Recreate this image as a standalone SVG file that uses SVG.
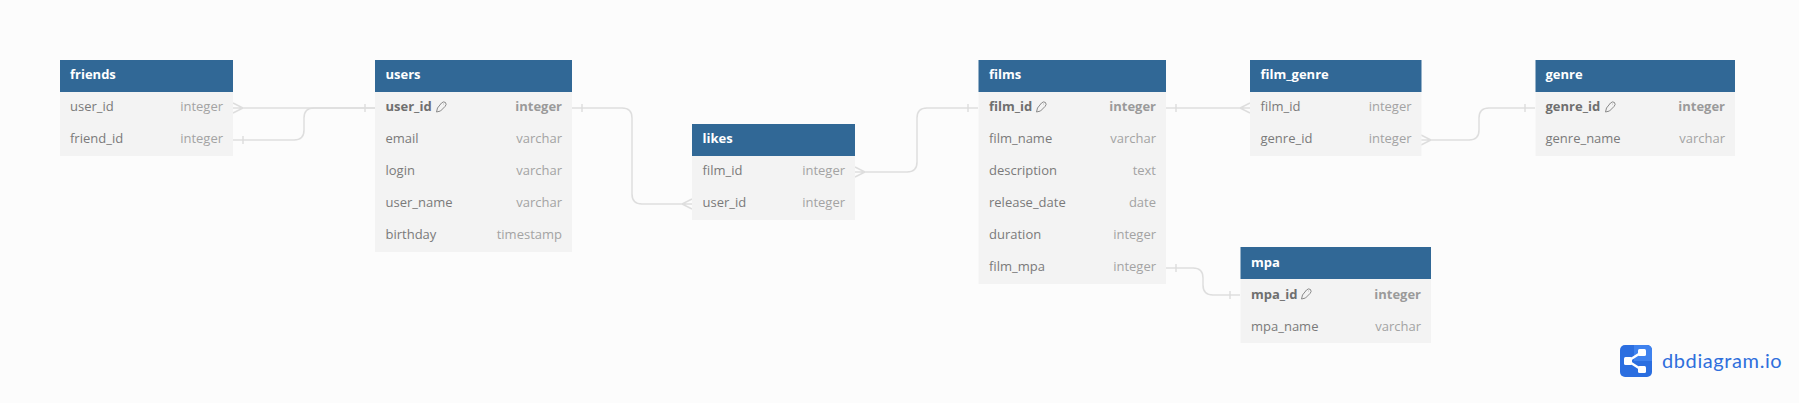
<svg xmlns="http://www.w3.org/2000/svg" width="1799" height="403" viewBox="0 0 1799 403">
<style>
text{font-family:"Open Sans","Noto Sans",sans-serif;font-size:13px}
.h{fill:#316896}.r{fill:#f3f3f3}
.t{fill:#fff;font-weight:700}
.n{fill:#7a7a7a}.ty{fill:#a3a3a3;text-anchor:end}
.pk{fill:#6f6f6f;font-weight:700}.pt{fill:#9a9a9a;font-weight:700;text-anchor:end}
.c{fill:none;stroke:#dedede;stroke-width:1.5}
.k{fill:none;stroke:#8a8a8a;stroke-width:1}
</style>
<defs>
<path id="key" class="k" d="M.5 10.500 L1.500 6.500 L5.500 1.500 Q7.500 -.5 9.500 1 Q11 3 9 5 L4.500 9.500 Z M7.500 2.500h.5"/>
</defs>
<rect width="1799" height="403" fill="#fcfcfc"/>
<g id="connectors">
<path class="c" d="M233 108H375M233 103L243 108L233 113M365 104V112"/>
<path class="c" d="M233 140H294Q304 140 304 130V118Q304 108 314 108H375M243 136V144"/>
<path class="c" d="M572 108H622Q632 108 632 118V194Q632 204 642 204H692M582 104V112M692 199L682 204L692 209"/>
<path class="c" d="M855 172H907Q917 172 917 162V118Q917 108 927 108H978M855 167L865 172L855 177M968 104V112"/>
<path class="c" d="M1166 108H1250M1176 104V112M1250 103L1240 108L1250 113"/>
<path class="c" d="M1421 140H1469Q1479 140 1479 130V118Q1479 108 1489 108H1535M1421 135L1431 140L1421 145M1525 104V112"/>
<path class="c" d="M1166 268H1193Q1203 268 1203 278V285Q1203 295 1213 295H1240M1176 264V272M1230 291V299"/>
</g>
<g id="friends">
<rect class="r" x="60" y="92" width="173" height="64"/><rect class="h" x="60" y="60" width="173" height="32"/>
<text class="t" x="70" y="79">friends</text>
<text class="n" x="70" y="111">user_id</text><text class="ty" x="223" y="111">integer</text>
<text class="n" x="70" y="143">friend_id</text><text class="ty" x="223" y="143">integer</text>
</g>
<g id="users">
<rect class="r" x="375" y="92" width="197" height="160"/><rect class="h" x="375" y="60" width="197" height="32"/>
<text class="t" x="385.500" y="79">users</text>
<text class="pk" x="385.500" y="111">user_id</text><use href="#key" x="436" y="101.500"/><text class="pt" x="562" y="111">integer</text>
<text class="n" x="385.500" y="143">email</text><text class="ty" x="562" y="143">varchar</text>
<text class="n" x="385.500" y="175">login</text><text class="ty" x="562" y="175">varchar</text>
<text class="n" x="385.500" y="207">user_name</text><text class="ty" x="562" y="207">varchar</text>
<text class="n" x="385.500" y="239">birthday</text><text class="ty" x="562" y="239">timestamp</text>
</g>
<g id="likes">
<rect class="r" x="692" y="156" width="163" height="64"/><rect class="h" x="692" y="124" width="163" height="32"/>
<text class="t" x="702.500" y="143">likes</text>
<text class="n" x="702.500" y="175">film_id</text><text class="ty" x="845" y="175">integer</text>
<text class="n" x="702.500" y="207">user_id</text><text class="ty" x="845" y="207">integer</text>
</g>
<g id="films">
<rect class="r" x="978.500" y="92" width="187.500" height="192"/><rect class="h" x="978.500" y="60" width="187.500" height="32"/>
<text class="t" x="989" y="79">films</text>
<text class="pk" x="989" y="111">film_id</text><use href="#key" x="1036" y="101.500"/><text class="pt" x="1156" y="111">integer</text>
<text class="n" x="989" y="143">film_name</text><text class="ty" x="1156" y="143">varchar</text>
<text class="n" x="989" y="175">description</text><text class="ty" x="1156" y="175">text</text>
<text class="n" x="989" y="207">release_date</text><text class="ty" x="1156" y="207">date</text>
<text class="n" x="989" y="239">duration</text><text class="ty" x="1156" y="239">integer</text>
<text class="n" x="989" y="271">film_mpa</text><text class="ty" x="1156" y="271">integer</text>
</g>
<g id="film_genre">
<rect class="r" x="1250" y="92" width="171.500" height="64"/><rect class="h" x="1250" y="60" width="171.500" height="32"/>
<text class="t" x="1260.500" y="79">film_genre</text>
<text class="n" x="1260.500" y="111">film_id</text><text class="ty" x="1411.500" y="111">integer</text>
<text class="n" x="1260.500" y="143">genre_id</text><text class="ty" x="1411.500" y="143">integer</text>
</g>
<g id="genre">
<rect class="r" x="1535.500" y="92" width="199.500" height="64"/><rect class="h" x="1535.500" y="60" width="199.500" height="32"/>
<text class="t" x="1545.500" y="79">genre</text>
<text class="pk" x="1545.500" y="111">genre_id</text><use href="#key" x="1605" y="101.500"/><text class="pt" x="1725" y="111">integer</text>
<text class="n" x="1545.500" y="143">genre_name</text><text class="ty" x="1725" y="143">varchar</text>
</g>
<g id="mpa">
<rect class="r" x="1240.500" y="279" width="190.500" height="64"/><rect class="h" x="1240.500" y="247" width="190.500" height="32"/>
<text class="t" x="1251" y="267">mpa</text>
<text class="pk" x="1251" y="299">mpa_id</text><use href="#key" x="1301" y="288.500"/><text class="pt" x="1421" y="299">integer</text>
<text class="n" x="1251" y="331">mpa_name</text><text class="ty" x="1421" y="331">varchar</text>
</g>
<g id="logo">
<rect x="1620" y="345" width="32" height="32" rx="5" fill="#2b6ee0"/>
<path d="M1634 345H1647a5 5 0 0 1 5 5V361H1634Z" fill="#3f82ee"/>
<path d="M1628 361L1642 352M1628 361L1642 370" stroke="#fff" stroke-width="2.500" fill="none"/>
<rect x="1624" y="357" width="8" height="8" rx="1.500" fill="#fff"/><rect x="1638" y="349" width="8" height="7" rx="1.500" fill="#fff"/><rect x="1638" y="366" width="8" height="7" rx="1.500" fill="#fff"/>
<text x="1662" y="368" style="font-size:20px;font-family:Lato,'Open Sans',sans-serif;letter-spacing:.6px" fill="#2f6fdc">dbdiagram.io</text>
</g>
</svg>
